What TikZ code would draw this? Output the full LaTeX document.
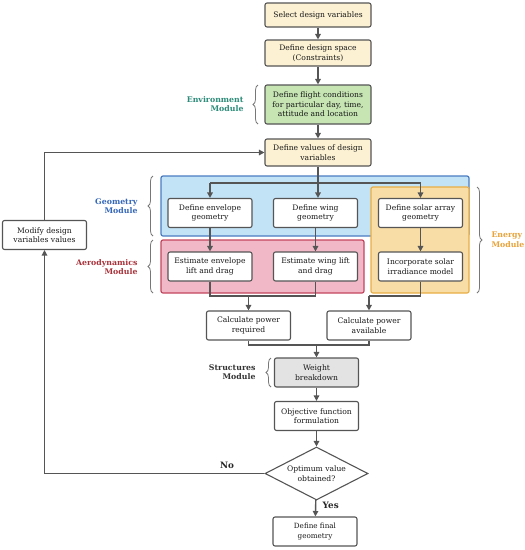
\documentclass[tikz,border=0pt]{standalone}
\usepackage{fontspec}
\setmainfont{DejaVu Serif}
\usetikzlibrary{arrows.meta,decorations.pathreplacing,shapes.geometric}
\definecolor{linec}{HTML}{555555}
\definecolor{cream}{HTML}{FCF1D3}
\definecolor{envgreen}{HTML}{C6E5B3}
\definecolor{geofill}{HTML}{C2E2F6}
\definecolor{geodraw}{HTML}{4A7CC2}
\definecolor{aerofill}{HTML}{F1B9C7}
\definecolor{aerodraw}{HTML}{C4455E}
\definecolor{enfill}{HTML}{F8DDA6}
\definecolor{endraw}{HTML}{E9AE45}
\definecolor{wtgray}{HTML}{E3E3E3}
\definecolor{envtext}{HTML}{2B8A78}
\definecolor{geotext}{HTML}{3567B8}
\definecolor{aerotext}{HTML}{A8323A}
\definecolor{entext}{HTML}{E8A33A}
\definecolor{sttext}{HTML}{333333}
\begin{document}
\begin{tikzpicture}[x=1pt,y=-1pt,
  box/.style={draw=linec, line width=1.1pt, rounded corners=2pt, fill=white, align=center,
    font=\fontsize{7.6}{9.6}\selectfont, text=black!90, minimum width=84pt, minimum height=29pt, inner sep=1pt},
  cbox/.style={box, fill=cream, minimum width=106pt},
  ar/.style={-{Triangle[length=5.5pt,width=5.5pt]}, draw=linec, line width=1.4pt},
  ln/.style={draw=linec, line width=1.4pt},
  region/.style={line width=1.2pt, rounded corners=2pt},
  modlabel/.style={font=\fontsize{7.8}{9.6}\selectfont\bfseries, align=right, anchor=east},
  brc/.style={draw=linec!80, line width=0.8pt, decorate, decoration={brace, amplitude=5pt}}
]
\useasboundingbox (0,0) rectangle (525,550);

% regions
\filldraw[region, fill=geofill, draw=geodraw] (161,176) rectangle (469,236);
\filldraw[region, fill=aerofill, draw=aerodraw] (161,240) rectangle (364,293);
\filldraw[region, fill=enfill, draw=endraw] (371,187) rectangle (469,293);

% nodes
\node[cbox, minimum height=24pt] (sel) at (318,15) {Select design variables};
\node[cbox, minimum height=26pt] (space) at (318,53) {Define design space\\(Constraints)};
\node[cbox, fill=envgreen, minimum height=39pt] (env) at (318,104.5) {Define flight conditions\\for particular day, time,\\attitude and location};
\node[cbox, minimum height=27pt] (vals) at (318,152.5) {Define values of design\\variables};
\node[box] (envg) at (210,213) {Define envelope\\geometry};
\node[box] (wing) at (315.5,213) {Define wing\\geometry};
\node[box] (solar) at (420.5,213) {Define solar array\\geometry};
\node[box] (enve) at (210,266.5) {Estimate envelope\\lift and drag};
\node[box] (winge) at (315.5,266.5) {Estimate wing lift\\and drag};
\node[box] (irr) at (420.5,266.5) {Incorporate solar\\irradiance model};
\node[box] (preq) at (248.5,325.5) {Calculate power\\required};
\node[box] (pav) at (369,325.5) {Calculate power\\available};
\node[box, fill=wtgray] (wt) at (316.5,372.5) {Weight\\breakdown};
\node[box] (obj) at (316.5,416) {Objective function\\formulation};
\node[diamond, aspect=1.95, draw=linec, line width=1.1pt, fill=white, align=center, inner sep=0pt,
  minimum width=103pt, minimum height=53pt, font=\fontsize{7.6}{9.6}\selectfont, text=black!90] (opt) at (316.5,473.5) {Optimum value\\obtained?};
\node[box, font=\fontsize{7.2}{9.4}\selectfont] (fin) at (315,531.5) {Define final\\geometry};
\node[box] (mod) at (44.5,235) {Modify design\\variables values};

% coordinates for junctions
\coordinate (sp) at (318,183);
\coordinate (m1) at (0,296);
\coordinate (m2) at (0,345);

% connectors
\draw[ar] (sel) -- (space);
\draw[ar] (space) -- (env);
\draw[ar] (env) -- (vals);
\draw[ar] (vals.south) -- (vals.south |- wing.north);
\draw[ln] (envg.north |- sp) -- (solar.north |- sp);
\draw[ar] (envg.north |- sp) -- (envg.north);
\draw[ar] (solar.north |- sp) -- (solar.north);
\draw[ar] (envg) -- (enve);
\draw[ar] (wing) -- (winge);
\draw[ar] (solar) -- (irr);
\draw[ln] (enve.south) |- (winge.south |- m1) -- (winge.south);
\draw[ar] (preq.north |- m1) -- (preq.north);
\draw[ln] (irr.south) |- (pav.north |- m1);
\draw[ar] (pav.north |- m1) -- (pav.north);
\draw[ln] (preq.south) |- (pav.south |- m2) -- (pav.south);
\draw[ar] (wt.north |- m2) -- (wt.north);
\draw[ar] (wt) -- (obj);
\draw[ar] (obj) -- (opt);
\draw[ar] (opt) -- (fin) node[pos=0.3, right=3pt, font=\fontsize{8.8}{10}\selectfont\bfseries, text=black!85] {Yes};
\draw[ar] (opt.west) -| (mod.south) node[pos=0.085, above=1pt, font=\fontsize{8.8}{10}\selectfont\bfseries, text=black!85] {No};
\draw[ar] (mod.north) |- (vals.west);

% module labels and braces
\draw[brc] (258,124) -- (258,85);
\node[modlabel, text=envtext] (envl) at (247,104) {Environment\\Module};
\draw[brc] (153,236) -- (153,176);
\node[modlabel, text=geotext] (geol) at (141,206) {Geometry\\Module};
\draw[brc] (153,293) -- (153,240);
\node[modlabel, text=aerotext] (aerol) at (141,267) {Aerodynamics\\Module};
\draw[brc] (477,187) -- (477,293);
\node[font=\fontsize{7.8}{9.6}\selectfont\bfseries, align=left, anchor=west, text=entext] (enl) at (488,240) {Energy\\Module};
\draw[brc] (271,387) -- (271,358);
\node[modlabel, text=sttext] (stl) at (259,372) {Structures\\Module};
\end{tikzpicture}
\end{document}
